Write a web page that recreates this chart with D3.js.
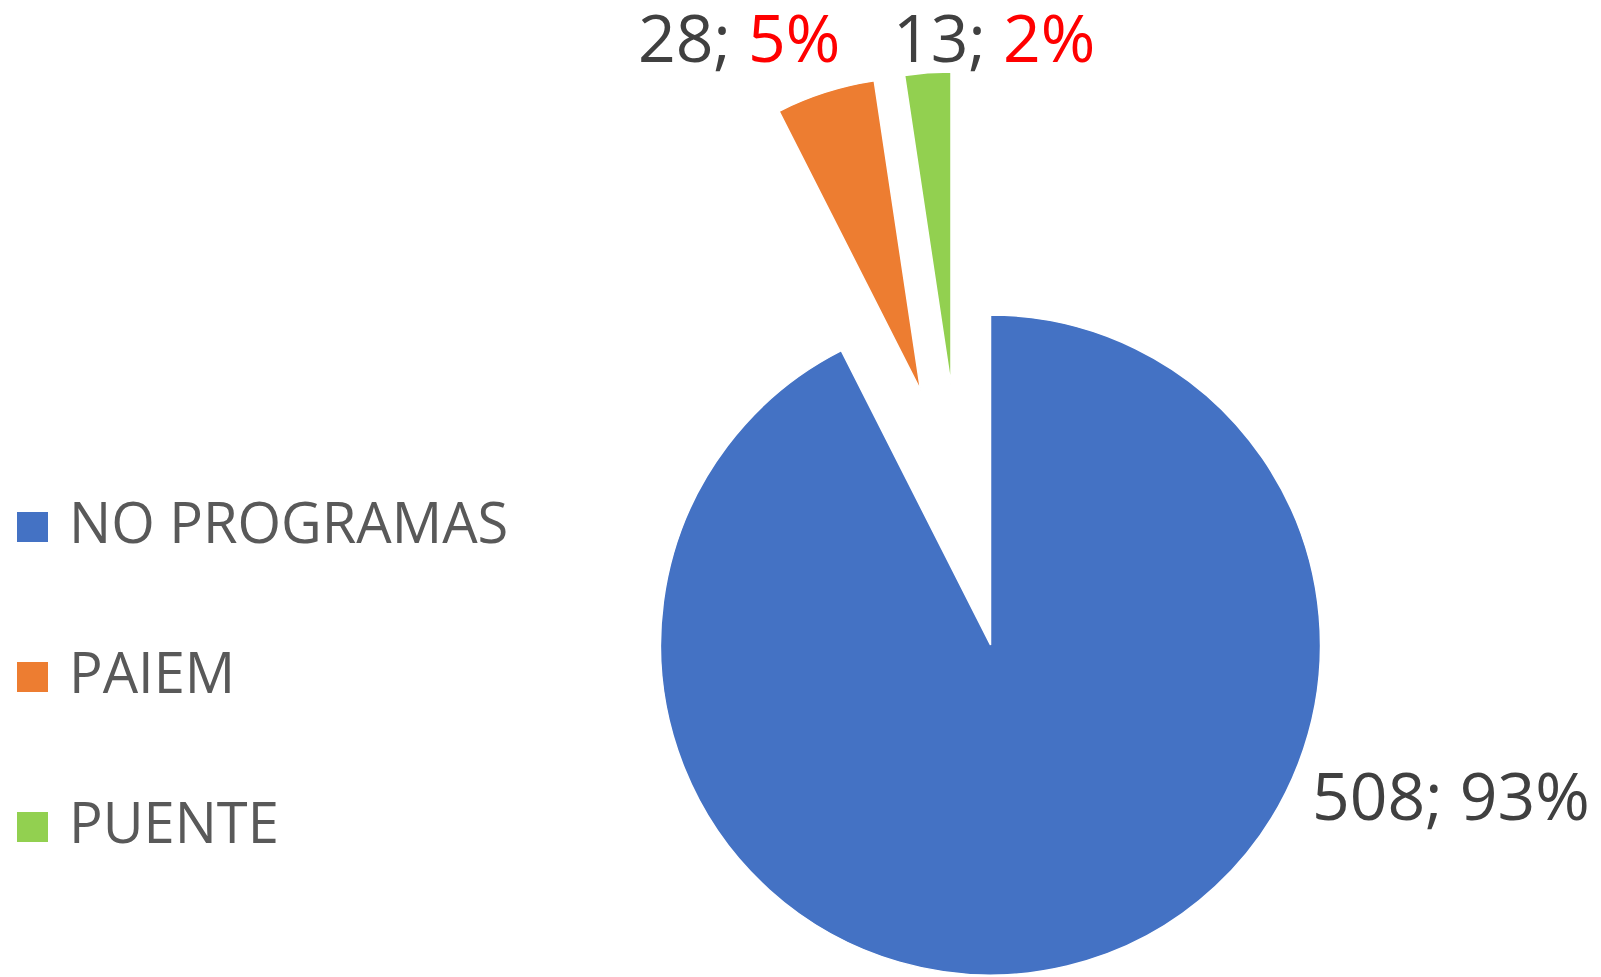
<!DOCTYPE html>
<html>
<head>
<meta charset="utf-8">
<script src="https://cdn.jsdelivr.net/npm/d3@7"></script>
<style>
  html, body { margin: 0; padding: 0; background: #ffffff; }
  svg { display: block; }
</style>
</head>
<body>
<svg id="chart" width="1601" height="977"></svg>
<script>
// ---- data ----
const categories = ["NO PROGRAMAS", "PAIEM", "PUENTE"];
const values = [508, 28, 13];
const percentLabels = ["93%", "5%", "2%"];

// ---- styling / layout ----
const colors = ["#4472C4", "#ED7D31", "#92D050"];
const percentColors = ["#404040", "#FF0000", "#FF0000"];
const sliceRadius = [330, 313, 313];
const explodeDist = [0, 264, 263];
const explodeAngleDeg = [0, 344.65, 351.36];
const labelPos = [[1312, 820], [638, 62], [893, 62]];

const W = 1601, H = 977;
const cx = 990.5, cy = 645;

const svg = d3.select("#chart");

const pie = d3.pie().sort(null).value(d => d).startAngle(0).endAngle(2 * Math.PI);
const arcs = pie(values);
const arc = d3.arc().innerRadius(0).outerRadius((d, i) => sliceRadius[d.index]);

const g = svg.append("g").attr("transform", `translate(${cx},${cy})`);

g.selectAll("path.slice")
  .data(arcs)
  .join("path")
  .attr("class", "slice")
  .attr("d", arc)
  .attr("fill", (d, i) => colors[i])
  .attr("stroke", "#ffffff")
  .attr("stroke-width", 1.5)
  .attr("transform", (d, i) => {
    const a = explodeAngleDeg[i] * Math.PI / 180;
    const dx = explodeDist[i] * Math.sin(a);
    const dy = -explodeDist[i] * Math.cos(a);
    return `translate(${dx},${dy})`;
  });

// data labels
const lbl = svg.append("g")
  .attr("font-family", "'Open Sans', 'Noto Sans', sans-serif")
  .attr("font-size", 66);

arcs.forEach((d, i) => {
  const t = lbl.append("text")
    .attr("x", labelPos[i][0])
    .attr("y", labelPos[i][1])
    .attr("fill", "#404040");
  t.append("tspan").text(values[i] + "; ");
  t.append("tspan").attr("fill", percentColors[i]).text(percentLabels[i]);
});

// legend
const legend = svg.append("g")
  .attr("font-family", "'Open Sans', 'Noto Sans', sans-serif")
  .attr("font-size", 56)
  .attr("fill", "#595959");

const legendY = d3.scalePoint().domain(categories).range([543, 843]);

categories.forEach((c, i) => {
  const y = legendY(c);
  legend.append("rect")
    .attr("x", 17).attr("y", y - 31)
    .attr("width", 31).attr("height", 30)
    .attr("fill", colors[i]);
  legend.append("text")
    .attr("x", 69).attr("y", y)
    .text(c);
});
</script>
</body>
</html>
